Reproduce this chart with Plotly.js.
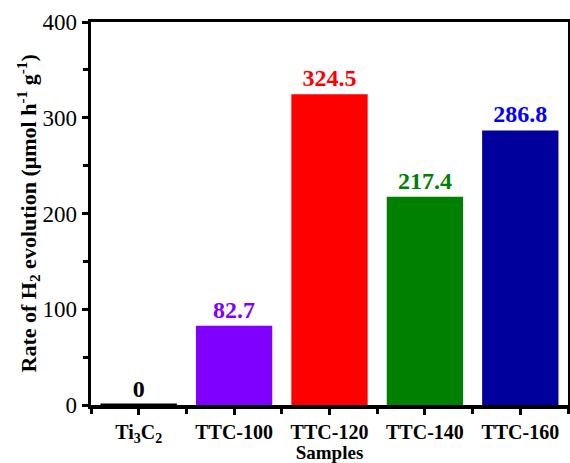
<!DOCTYPE html>
<html><head><meta charset="utf-8">
<script src="https://cdn.plot.ly/plotly-3.0.1.min.js"></script>
<style>html,body{margin:0;padding:0;background:#fff}</style>
</head><body>
<div id="chart" style="width:570px;height:463px"></div>
<script>
const categories = ["Ti<sub>3</sub>C<sub>2</sub>", "TTC-100", "TTC-120", "TTC-140", "TTC-160"];
const rates = [0, 82.7, 324.5, 217.4, 286.8];
const labels = ["0", "82.7", "324.5", "217.4", "286.8"];
const barColors = ["#000000", "#8000FF", "#FF0000", "#008000", "#00009C"];
const labelColors = ["#000000", "#8000FF", "#FF0000", "#008000", "#0000FF"];
const positions = categories.map((c, i) => i);

const font = "Liberation Serif, Times New Roman, serif";
const trace = {
  type: "bar",
  x: positions,
  y: rates,
  width: 0.8,
  marker: {color: barColors, line: {color: barColors, width: rates.map(v => v === 0 ? 3 : 0)}},
  text: labels.map(t => "<b>" + t + "</b>"),
  textposition: "outside",
  constraintext: "none",
  textfont: {family: font, size: 24, color: labelColors},
  cliponaxis: false,
  hoverinfo: "none"
};
const layout = {
  width: 570, height: 463,
  margin: {l: 91, r: 2, t: 22, b: 58},
  paper_bgcolor: "#fff", plot_bgcolor: "#fff",
  showlegend: false,
  font: {family: font, color: "#000"},
  xaxis: {
    range: [-0.5, 4.5],
    tickmode: "array", tickvals: positions, ticktext: categories.map(c => "<b>" + c + "</b>"),
    ticks: "outside", ticklen: 6, tickwidth: 3, tickcolor: "#000",
    minor: {tickmode: "array", tickvals: [-0.5, 0.5, 1.5, 2.5, 3.5, 4.5], ticks: "outside", ticklen: 5, tickwidth: 3, tickcolor: "#000"},
    showline: true, linewidth: 3.5, linecolor: "#000", mirror: true,
    showgrid: false, zeroline: false,
    tickfont: {family: font, size: 20, color: "#000"},
    title: {text: "<b>Samples</b>", font: {family: font, size: 19, color: "#000"}, standoff: 0}
  },
  yaxis: {
    range: [0, 400],
    tickmode: "linear", tick0: 0, dtick: 100,
    ticks: "outside", ticklen: 6, tickwidth: 3, tickcolor: "#000",
    minor: {dtick: 50, ticks: "outside", ticklen: 5, tickwidth: 3, tickcolor: "#000"},
    showline: true, linewidth: 3.5, linecolor: "#000", mirror: true,
    showgrid: false, zeroline: false,
    tickfont: {family: font, size: 23, color: "#000"}
  },
  annotations: [{
    xref: "paper", yref: "paper",
    x: -(91 - 28) / 477, y: 0.5,
    xanchor: "center", yanchor: "middle",
    textangle: -90, showarrow: false,
    text: "<b>Rate of H<sub>2</sub> evolution (μmol h<sup>-1</sup> g<sup>-1</sup>)</b>",
    font: {family: font, size: 22, color: "#000"}
  }]
};
Plotly.newPlot("chart", [trace], layout, {staticPlot: true, displayModeBar: false});
</script>
</body></html>
